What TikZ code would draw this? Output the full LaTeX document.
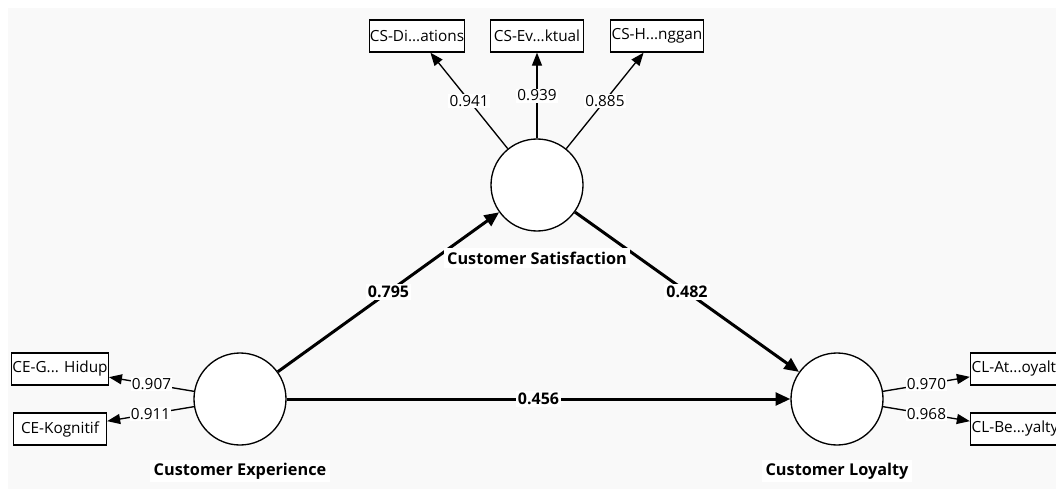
\documentclass[tikz,border=0pt]{standalone}
\usepackage{fontspec}
\setmainfont{Open Sans}
\usetikzlibrary{arrows.meta}
\definecolor{canvas}{RGB}{249,249,249}

\begin{document}
\begin{tikzpicture}[x=0.75pt, y=-0.75pt, construct_style/.style={circle,draw=black,fill=white,line width=1pt,inner sep=0pt,minimum size=69pt}, indicator_style/.style={rectangle,draw=black,fill=white,line width=1pt,inner sep=0.5pt,minimum width=69.75pt,minimum height=24pt,font=\fontsize{11.5}{13}\selectfont}, name_style/.style={fill=white,inner sep=2.5pt,font=\fontsize{12.2}{14}\selectfont\bfseries}, loading_style/.style={fill=white,inner sep=1pt,font=\fontsize{11.5}{13}\selectfont}, path_label_style/.style={fill=white,inner sep=1.5pt,font=\fontsize{12}{14}\selectfont\bfseries}, edge_style/.style={draw=black,line width=1pt,-{Triangle[length=9.75pt,width=7.5pt]}}, path_edge_style/.style={draw=black,line width=2.25pt,-{Triangle[length=11pt,width=9.5pt]}}]
      \useasboundingbox (0,0) rectangle (1056,489);
      \clip (0,0) rectangle (1056,489);
      \fill[canvas] (8,8) rectangle (1056,489);
      \draw
        (537,185) node[construct_style] (cs){}
        (240,399) node[construct_style] (ce){}
        (837,399) node[construct_style] (cl){}
        (417,36) node[indicator_style] (cs_di){CS-Di...ations}
        (537,36) node[indicator_style] (cs_ev){CS-Ev...ktual}
        (657,36) node[indicator_style] (cs_h){CS-H...nggan}
        (60,369) node[indicator_style] (ce_g){CE-G... Hidup}
        (60,429) node[indicator_style] (ce_k){CE-Kognitif}
        (1017,369) node[indicator_style,text width=68pt,align=left] (cl_at){CL-At...oyalt}
        (1017,429) node[indicator_style,text width=68pt,align=left] (cl_be){CL-Be...yalty};
      \begin{scope}
        \draw[path_edge_style] (ce) to node[path_label_style] {0.795} (cs);
        \draw[path_edge_style] (cs) to node[path_label_style] {0.482} (cl);
        \draw[path_edge_style] (ce) to node[path_label_style] {0.456} (cl);
        \draw[edge_style] (cs) to node[loading_style] {0.941} (cs_di);
        \draw[edge_style] (cs) to node[loading_style] {0.939} (cs_ev);
        \draw[edge_style] (cs) to node[loading_style] {0.885} (cs_h);
        \draw[edge_style] (ce) to node[loading_style] {0.907} (ce_g);
        \draw[edge_style] (ce) to node[loading_style] {0.911} (ce_k);
        \draw[edge_style] (cl) to node[loading_style] {0.970} (cl_at);
        \draw[edge_style] (cl) to node[loading_style] {0.968} (cl_be);
      \end{scope}
      \draw
        (537,258) node[name_style] (cs_name){Customer Satisfaction}
        (240,471) node[name_style] (ce_name){Customer Experience}
        (837,471) node[name_style] (cl_name){Customer Loyalty};
    \end{tikzpicture}
\end{document}
